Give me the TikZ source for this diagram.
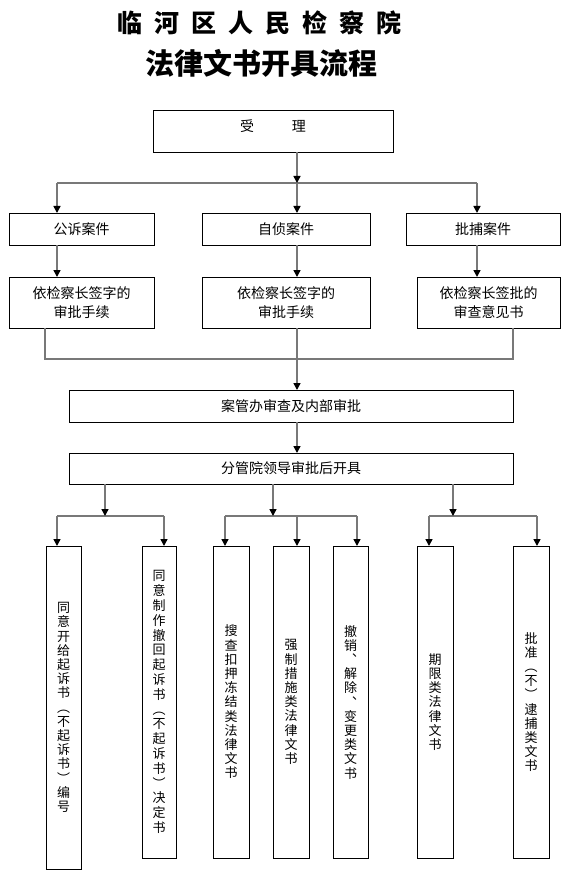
\documentclass[tikz,border=0pt]{standalone}
\usepackage{fontspec}
\setmainfont{Noto Sans CJK SC}
\usetikzlibrary{positioning}
\usetikzlibrary{arrows.meta}
\definecolor{linegray}{RGB}{120,120,120}

\begin{document}
\begin{tikzpicture}[x=1pt, y=-1pt,
        box/.style = {
            draw,
            rectangle,
            line width = 0.8pt,
            inner sep = 0pt,
            outer sep = 0pt,
            font = \fontsize{14}{19}\selectfont,
            align = center
        },
        wsbox/.style = {
            box,
            minimum width = 36pt,
            minimum height = #1,
            font = \fontsize{13}{14.2}\selectfont
        },
        wsbox/.default = 312pt,
        conn/.style = {draw=linegray, line width=1.5pt},
        arr/.style = {conn, -{Triangle[length=7pt, width=7pt, color=black]}}
        ]
\useasboundingbox (0,0) rectangle (568,877);
%
        \node[font=\fontsize{25}{30}\selectfont\bfseries] (title1) at (259,23)
              {临\hspace{12pt}河\hspace{12pt}区\hspace{12pt}人\hspace{12pt}民\hspace{12pt}检\hspace{12pt}察\hspace{12pt}院};
        \node[font=\fontsize{29}{34}\selectfont\bfseries] (title2) at (261,63) {法律文书开具流程};
%
        \node[box, minimum width=240pt, minimum height=42pt, text depth=10pt] (shouli) at (273,131) {受\hspace{38pt}理};
%
        \node[box, minimum width=145pt, minimum height=32pt] (gongsu) at (81.5,229) {公诉案件};
        \node[box, minimum width=168pt, minimum height=32pt] (zizhen) at (286,229) {自侦案件};
        \node[box, minimum width=154pt, minimum height=32pt] (pibu) at (483,229) {批捕案件};
%
        \node[box, minimum width=145pt, minimum height=51pt] (spgs) at (81.5,302.5) {依检察长签字的\\审批手续};
        \node[box, minimum width=168pt, minimum height=51pt] (spzz) at (286,302.5) {依检察长签字的\\审批手续};
        \node[box, minimum width=143pt, minimum height=51pt] (spbp) at (488.5,302.5) {依检察长签批的\\审查意见书};
%
        \node[box, minimum width=444pt, minimum height=32pt] (anguan) at (291,406) {案管办审查及内部审批};
        \node[box, minimum width=444pt, minimum height=31pt] (fenguan) at (291,468.5) {分管院领导审批后开具};
%
        \node[wsbox=323pt, minimum width=35pt] (ws1) at (63.5,707.5)
              {同\\意\\开\\给\\起\\诉\\书\\︵\\不\\起\\诉\\书\\︶\\编\\号};
        \node[wsbox, minimum width=34pt, font=\fontsize{13}{14.8}\selectfont] (ws2) at (159,702)
              {同\\意\\制\\作\\撤\\回\\起\\诉\\书\\︵\\不\\起\\诉\\书\\︶\\决\\定\\书};
        \node[wsbox] (ws3) at (231,702) {搜\\查\\扣\\押\\冻\\结\\类\\法\\律\\文\\书};
        \node[wsbox] (ws4) at (291,702) {强\\制\\措\\施\\类\\法\\律\\文\\书};
        \node[wsbox, minimum width=35pt] (ws5) at (350.5,702) {撤\\销\\︑\\解\\除\\︑\\变\\更\\类\\文\\书};
        \node[wsbox] (ws6) at (435,702) {期\\限\\类\\法\\律\\文\\书};
        \node[wsbox] (ws7) at (531,702) {批\\准\\︵\\不\\︶\\逮\\捕\\类\\文\\书};
%
        \coordinate (c1) at (57,183);
        \coordinate (c2) at (297,183);
        \coordinate (c3) at (477,183);
        \coordinate (m1) at (45,359);
        \coordinate (m2) at (297,359);
        \coordinate (m3) at (513,359);
        \coordinate (g1) at (105,516);
        \coordinate (g2) at (273,516);
        \coordinate (g3) at (453,516);
        \coordinate (d1) at (57,516);
        \coordinate (d2) at (164,516);
        \coordinate (d3) at (225,516);
        \coordinate (d4) at (297,516);
        \coordinate (d5) at (357,516);
        \coordinate (d6) at (429,516);
        \coordinate (d7) at (537,516);
%
        \draw[conn] (c1) -- (c3);
        \draw[arr] (shouli.south -| c2) -- (c2);
        \draw[arr] (c1) -- (gongsu.north -| c1);
        \draw[arr] (c2) -- (zizhen.north -| c2);
        \draw[arr] (c3) -- (pibu.north -| c3);
%
        \draw[arr] (gongsu.south -| c1) -- (spgs.north -| c1);
        \draw[arr] (zizhen.south -| c2) -- (spzz.north -| c2);
        \draw[arr] (pibu.south -| c3) -- (spbp.north -| c3);
%
        \draw[conn] (spgs.south -| m1) -- (m1) -- (m3) -- (spbp.south -| m3);
        \draw[arr] (spzz.south -| m2) -- (anguan.north -| m2);
        \draw[arr] (anguan.south -| m2) -- (fenguan.north -| m2);
%
        \draw[conn] (d1) -- (d2);
        \draw[conn] (d3) -- (d5);
        \draw[conn] (d6) -- (d7);
        \draw[arr] (fenguan.south -| g1) -- (g1);
        \draw[arr] (fenguan.south -| g2) -- (g2);
        \draw[arr] (fenguan.south -| g3) -- (g3);
%
        \draw[arr] (d1) -- (ws1.north -| d1);
        \draw[arr] (d2) -- (ws2.north -| d2);
        \draw[arr] (d3) -- (ws3.north -| d3);
        \draw[arr] (d4) -- (ws4.north -| d4);
        \draw[arr] (d5) -- (ws5.north -| d5);
        \draw[arr] (d6) -- (ws6.north -| d6);
        \draw[arr] (d7) -- (ws7.north -| d7);
%
\end{tikzpicture}
\end{document}
